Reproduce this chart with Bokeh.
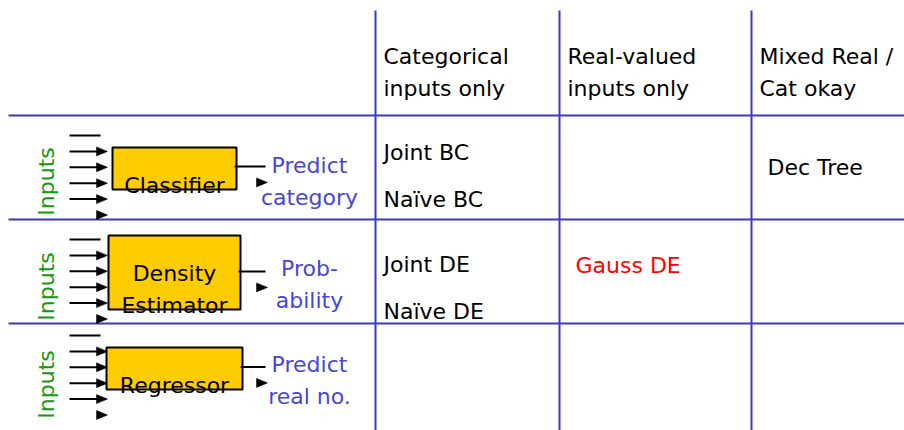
import math
from bokeh.plotting import figure
from bokeh.models import Range1d
from bokeh.core.properties import value
from bokeh.embed import file_html
from bokeh.resources import INLINE

# ---- content (texts of the table) ----
column_headers = [["Categorical", "inputs only"],
                  ["Real-valued", "inputs only"],
                  ["Mixed Real /", "Cat okay"]]
model_names = [["Classifier"], ["Density", "Estimator"], ["Regressor"]]
model_outputs = [["Predict", "category"], ["Prob-", "ability"], ["Predict", "real no."]]
input_label = "Inputs"
# cells: (row, column, lines)
cell_row = [0, 0, 1]
cell_col = [0, 2, 0]
cell_lines = [["Joint BC", "Naïve BC"], ["Dec Tree"], ["Joint DE", "Naïve DE"]]
highlight_row = [1]
highlight_col = [1]
highlight_lines = [["Gauss DE"]]

# ---- layout constants (screen pixels) ----
FONT = "DejaVu Sans"
FS = "22px"
GRID = "#3838cc"
BLUE = "#4646d8"
GREEN = "#129a12"
GOLD = "#FFCC00"
RED = "#FF0000"

W, H = 904, 430
DY = -9  # baseline correction
col_lines_x = [375, 559, 751]
row_lines_y = [115, 219, 323]
col_text_x = [383, 567, 759]
header_baselines = [65, 97]
line_step = 32

cell_base = {(0, 0): 161, (0, 2): 176, (1, 0): 273, (1, 1): 274}
cell_x_off = {(0, 2): 8, (1, 1): 8}

boxes = [(112, 236, 147, 189), (108, 240, 235, 309), (106, 242, 347, 389)]
box_text_base = [194, 282, 394]
input_first_y = [135, 239, 335]
input_step = 15.9
output_line_y = [166, 271, 366.5]
output_text_base = [174, 277, 373]
output_text_x = 309
inputs_center_y = [181, 286, 384]
inputs_x = 46

p = figure(width=W, height=H, x_range=Range1d(0, W), y_range=Range1d(H, 0),
           output_backend="svg", toolbar_location=None, min_border=0)
p.axis.visible = False
p.grid.visible = False
p.outline_line_color = None
p.background_fill_color = "white"

def txt(xs, ys, texts, color="black", align="left", angle=0.0, dy=DY):
    p.text(x=xs, y=[y + dy for y in ys], text=texts, text_font=value(FONT),
           text_font_size=value(FS), text_color=color, text_align=align,
           text_baseline="alphabetic", angle=angle)

# grid lines
p.segment(x0=[8] * 3, y0=row_lines_y, x1=[W] * 3, y1=row_lines_y, line_color=GRID, line_width=2)
p.segment(x0=col_lines_x, y0=[10] * 3, x1=col_lines_x, y1=[H] * 3, line_color=GRID, line_width=2)

# headers
hx, hy, ht = [], [], []
for c, lines in enumerate(column_headers):
    for i, t in enumerate(lines):
        hx.append(col_text_x[c]); hy.append(header_baselines[i]); ht.append(t)
txt(hx, hy, ht)

# cells
cx, cy, ct = [], [], []
for r, c, lines in zip(cell_row, cell_col, cell_lines):
    for i, t in enumerate(lines):
        cx.append(col_text_x[c] + cell_x_off.get((r, c), 0))
        cy.append(cell_base[(r, c)] + i * 47)
        ct.append(t)
txt(cx, cy, ct)
rx, ry, rt = [], [], []
for r, c, lines in zip(highlight_row, highlight_col, highlight_lines):
    for i, t in enumerate(lines):
        rx.append(col_text_x[c] + cell_x_off.get((r, c), 0))
        ry.append(cell_base[(r, c)] + i * 47)
        rt.append(t)
txt(rx, ry, rt, color=RED)

# diagrams
for k in range(3):
    l, rgt, t, b = boxes[k]
    # input lines (5 lines, heads shifted by one step)
    ys_lines = [input_first_y[k] + j * input_step for j in range(5)]
    ys_heads = [input_first_y[k] + (j + 1) * input_step for j in range(5)]
    p.segment(x0=[69] * 5, y0=ys_lines, x1=[100] * 5, y1=ys_lines, line_color="black", line_width=2)
    p.patches(xs=[[96, 107, 96] for _ in ys_heads],
              ys=[[y - 4.5, y, y + 4.5] for y in ys_heads],
              fill_color="black", line_color="black", line_width=0.5)
    # box
    p.quad(left=[l], right=[rgt], top=[t], bottom=[b], fill_color=GOLD,
           line_color="black", line_width=2)
    # output line + shifted head
    oy = output_line_y[k]
    p.segment(x0=[rgt - 2], y0=[oy], x1=[265], y1=[oy], line_color="black", line_width=2)
    hy2 = oy + input_step
    p.patches(xs=[[256, 267, 256]], ys=[[hy2 - 4.5, hy2, hy2 + 4.5]],
              fill_color="black", line_color="black", line_width=0.5)
    # box text
    cxm = (l + rgt) / 2
    names = model_names[k]
    txt([cxm] * len(names), [box_text_base[k] + i * line_step for i in range(len(names))],
        names, align="center")
    # output text
    outs = model_outputs[k]
    txt([output_text_x] * len(outs), [output_text_base[k] + i * line_step for i in range(len(outs))],
        outs, color=BLUE, align="center")
    # Inputs label (rotated: baseline correction acts along x)
    txt([inputs_x], [inputs_center_y[k]], [input_label], color=GREEN, align="center",
        angle=math.pi / 2, dy=0)

open("out.html", "w").write(file_html(p, INLINE))
